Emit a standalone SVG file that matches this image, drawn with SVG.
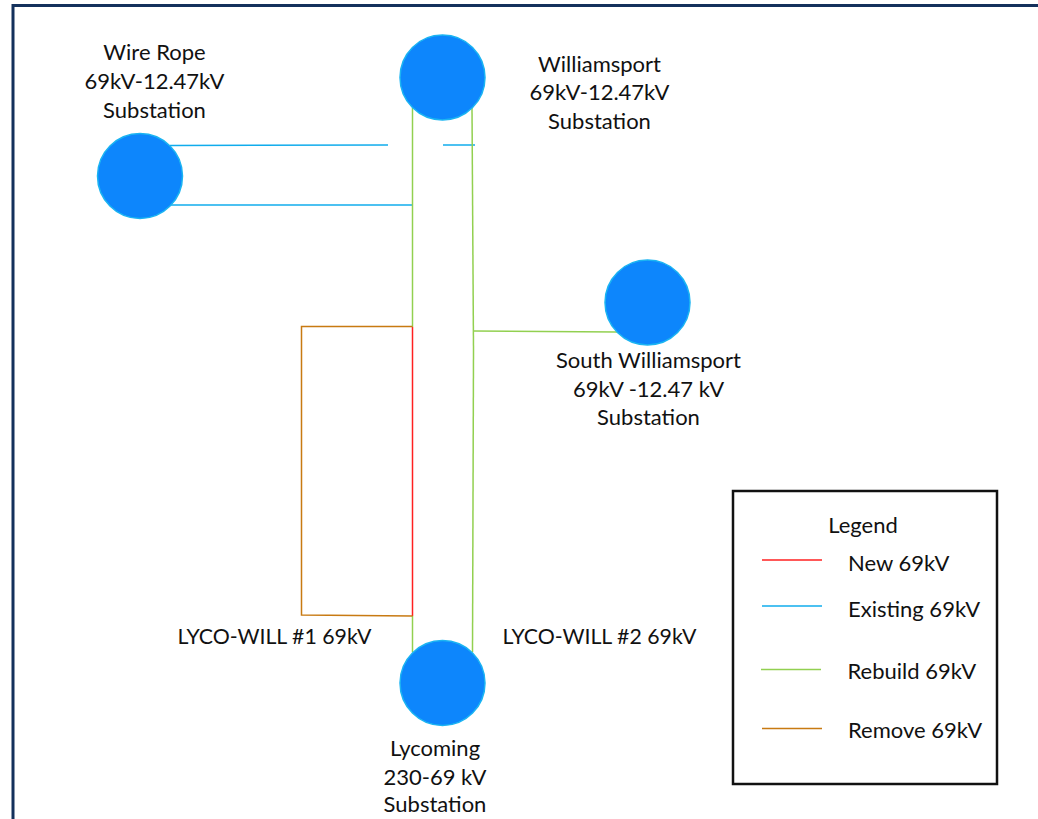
<svg xmlns="http://www.w3.org/2000/svg" width="1038" height="819" viewBox="0 0 1038 819">
<style>
  text { font-family: Lato, "Liberation Sans", sans-serif; font-size: 22px; fill: #111; }
  .c { text-anchor: middle; }
  .lbl { font-size: 21.3px; }
  .sub { fill: #0D86FC; stroke: #1AB4F2; stroke-width: 1.5; }
  .new { stroke: #FF2020; stroke-width: 1.5; fill: none; }
  .exist { stroke: #10ACEC; stroke-width: 1.5; fill: none; }
  .rebuild { stroke: #92D050; stroke-width: 1.5; fill: none; }
  .remove { stroke: #C87A12; stroke-width: 1.5; fill: none; }
</style>
<rect x="0" y="0" width="1038" height="819" fill="#ffffff"/>
<path d="M13,819 V5.5 H1038" fill="none" stroke="#14315C" stroke-width="3"/>

<g id="connectors">
  <line class="exist" x1="170" y1="145.5" x2="388" y2="145"/>
  <line class="exist" x1="443" y1="145" x2="475" y2="145"/>
  <line class="exist" x1="170" y1="205" x2="412.5" y2="205"/>
  <line class="rebuild" x1="412.5" y1="108" x2="412.5" y2="327"/>
  <line class="new" x1="412.5" y1="327" x2="412.5" y2="616"/>
  <line class="rebuild" x1="412.5" y1="616" x2="412.5" y2="652"/>
  <line class="rebuild" x1="472" y1="108" x2="473.5" y2="350"/>
  <line class="rebuild" x1="473.5" y1="350" x2="472.5" y2="652"/>
  <line class="rebuild" x1="473" y1="331" x2="617" y2="332"/>
  <path class="remove" d="M412.5,326.5 H301.5 V615 L412.5,616"/>
</g>

<g id="wire-rope">
  <circle class="sub" cx="140" cy="176" r="42.5"/>
  <text class="c" x="154.5" y="60">Wire Rope</text>
  <text class="c" x="154.5" y="89">69kV-12.47kV</text>
  <text class="c" x="154.5" y="118">Substation</text>
</g>

<g id="williamsport">
  <circle class="sub" cx="442.5" cy="77.5" r="42.5"/>
  <text class="c" x="599.5" y="72">Williamsport</text>
  <text class="c" x="599.5" y="100">69kV-12.47kV</text>
  <text class="c" x="599.5" y="129">Substation</text>
</g>

<g id="south-williamsport">
  <circle class="sub" cx="647.5" cy="302.5" r="42.5"/>
  <text class="c" x="648.5" y="368">South Williamsport</text>
  <text class="c" x="648.5" y="397">69kV -12.47 kV</text>
  <text class="c" x="648.5" y="425">Substation</text>
</g>

<g id="lycoming">
  <circle class="sub" cx="442.5" cy="683" r="42.5"/>
  <text class="c" x="435" y="756">Lycoming</text>
  <text class="c" x="435" y="785">230-69 kV</text>
  <text class="c" x="435" y="812">Substation</text>
</g>

<g id="line-labels">
  <text class="c lbl" x="274.5" y="644">LYCO-WILL #1 69kV</text>
  <text class="c lbl" x="599.5" y="644">LYCO-WILL #2 69kV</text>
</g>

<g id="legend">
  <rect x="733" y="491" width="264" height="293" fill="#fff" stroke="#111" stroke-width="2.5"/>
  <text class="c" x="863" y="533">Legend</text>
  <line class="new" x1="762" y1="560" x2="822" y2="560"/>
  <text x="848" y="571">New 69kV</text>
  <line class="exist" x1="762" y1="606" x2="822" y2="606"/>
  <text x="848" y="617">Existing 69kV</text>
  <line class="rebuild" x1="761" y1="669.5" x2="821" y2="669.5"/>
  <text x="847.5" y="679">Rebuild 69kV</text>
  <line class="remove" x1="762" y1="728.5" x2="822" y2="728.5"/>
  <text x="848" y="738">Remove 69kV</text>
</g>
</svg>
